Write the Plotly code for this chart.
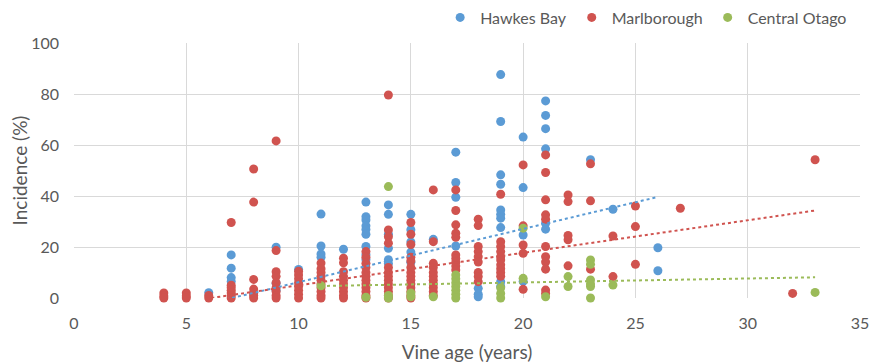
import plotly.graph_objects as go

# ---- data (vine age -> incidence values %) ----
hawkes_bay = {
    6: [2.1],
    7: [16.9, 11.7, 8, 6.5],
    9: [19.9, 5.8, 3],
    10: [11.2],
    11: [32.9, 20.4, 17.3, 16],
    12: [19.1],
    13: [37.6, 31.9, 30.6, 28.3, 26.9, 25, 20.2, 17, 15],
    14: [36.5, 32.8, 25, 19.5, 15, 13.5],
    15: [32.8, 26.8, 22, 18, 14],
    16: [23],
    17: [57.2, 45.3, 39.5, 20.4],
    18: [3.8, 1.5, 0.5],
    19: [87.6, 69.2, 48.3, 44.6, 34.5, 32.8, 31.3, 27.6, 6.4, 4.5],
    20: [63.1, 43.3, 24.7, 6.5],
    21: [77.3, 71.6, 66.4, 58.5, 29.3, 27],
    23: [54.2],
    24: [34.8],
    26: [19.7, 10.7],
}
marlborough = {
    4: [2, 0.8, 0],
    5: [2, 0.8, 0],
    6: [1, 0],
    7: [29.6, 5, 4, 3, 2, 1, 0],
    8: [50.6, 37.6, 7.3, 3.5, 2, 1, 0],
    9: [61.6, 18.6, 10.3, 8.5, 6, 4, 2.5, 1, 0],
    10: [10.5, 9, 7.5, 6, 4.5, 3, 1.5, 0],
    11: [13.7, 11.5, 10, 8.5, 7, 5.5, 4, 2.5, 1, 0],
    12: [15.6, 13.8, 10.3, 8.5, 7, 5.5, 4, 2.5, 1, 0],
    13: [18.2, 16, 13.6, 12, 10, 8.5, 7, 5.5, 4, 2.5, 1, 0],
    14: [79.6, 26.7, 24, 21.5, 12, 10, 8.5, 7, 5.5, 4, 2.5, 1, 0],
    15: [29.6, 25, 21, 16, 14.5, 12, 10, 8.5, 7, 5.5, 4, 2.5, 1, 0],
    16: [42.4, 22.1, 13.6, 12, 10, 8.5, 7, 5.5, 4, 2.5, 1],
    17: [42.4, 34.3, 28.7, 25.4, 23.8, 16.9, 15.5, 14, 12.5, 11],
    18: [30.9, 28.4, 20.2, 18.2, 16.2, 14.1, 10, 8.4, 6.4],
    19: [40.7, 22.1, 20.2, 18.2, 16.2, 14.9, 13, 11.5, 10, 8.5],
    20: [52.2, 28.3, 20.8, 17.5, 3.4],
    21: [56.1, 49.2, 38.5, 32.6, 30.9, 20.2, 16.2, 14.1, 11.3, 3.1, 1.8],
    22: [40.4, 37.8, 24.5, 22.8, 12.6],
    23: [52.6, 38.1, 11.3],
    24: [24.3, 8.4],
    25: [36.1, 28, 13.2],
    27: [35.2],
    32: [1.8],
    33: [54.2],
}
central_otago = {
    11: [4.8],
    13: [0.3],
    14: [43.7, 1, 0],
    15: [2, 0.5],
    16: [0.5],
    17: [9, 7.5, 6, 4.5, 3, 1.5, 0],
    19: [4, 1.8, 0],
    20: [27.4, 7.7],
    21: [0.5],
    22: [8.4, 4.5],
    23: [14.9, 13.2, 7.1, 5.5, 4.5, 0],
    24: [5.1],
    33: [2.2],
}
# linear trendline (slope, intercept)
hb_trend = (2.09, -14.7)
ma_trend = (1.275, -7.77)
co_trend = (0.155, 3.0)

series_names = ["Hawkes Bay", "Marlborough", "Central Otago"]
series_data = [hawkes_bay, marlborough, central_otago]
series_trend = [hb_trend, ma_trend, co_trend]
series_colors = ["#5B9BD5", "#D0534F", "#9BBB59"]

x_ticks = [0, 5, 10, 15, 20, 25, 30, 35]
y_ticks = [0, 20, 40, 60, 80, 100]

FONT = "Lato, 'Open Sans', sans-serif"
GREY = "#595959"

fig = go.Figure()

def expand(d):
    xs, ys = [], []
    for age, vals in d.items():
        for v in vals:
            xs.append(age)
            ys.append(v)
    return xs, ys

for name, data, color in zip(series_names, series_data, series_colors):
    xs, ys = expand(data)
    fig.add_trace(go.Scatter(
        x=xs, y=ys, mode="markers", name=name,
        marker=dict(color=color, size=9, line=dict(width=0)),
        cliponaxis=False,
    ))

for name, data, (m, b), color in zip(series_names, series_data, series_trend, series_colors):
    ages = list(data.keys())
    x0, x1 = min(ages), max(ages)
    fig.add_trace(go.Scatter(
        x=[x0, x1], y=[m * x0 + b, m * x1 + b], mode="lines",
        line=dict(color=color, width=2, dash="dot"),
        showlegend=False, hoverinfo="skip", cliponaxis=True,
    ))

# page body has an 8px default margin, so the figure is 8px smaller
fig.update_layout(
    width=869, height=355,
    margin=dict(l=66, r=17, t=35, b=65, autoexpand=False),
    paper_bgcolor="white", plot_bgcolor="white",
    font=dict(family=FONT, size=16, color=GREY),
    legend=dict(orientation="h", x=0.99, xanchor="right", y=1.1, yanchor="middle",
                font=dict(size=16, color=GREY), itemwidth=30,
                traceorder="normal", bgcolor="rgba(0,0,0,0)"),
    xaxis=dict(range=[0, 35], tickvals=x_ticks, showgrid=True, gridcolor="#D9D9D9",
               zeroline=False, showline=False, ticks="", automargin=False,
               ticklabelstandoff=14,
               tickfont=dict(size=16, color=GREY),
               title=dict(text="Vine age (years)", font=dict(size=19, color=GREY), standoff=14)),
    yaxis=dict(range=[0, 100], tickvals=y_ticks, showgrid=True, gridcolor="#D9D9D9",
               zeroline=False, showline=False, ticks="", automargin=False,
               ticklabelstandoff=14,
               tickfont=dict(size=16, color=GREY),
               title=dict(text="Incidence (%)", font=dict(size=19, color=GREY), standoff=0)),
)

fig.write_html("out.html")
